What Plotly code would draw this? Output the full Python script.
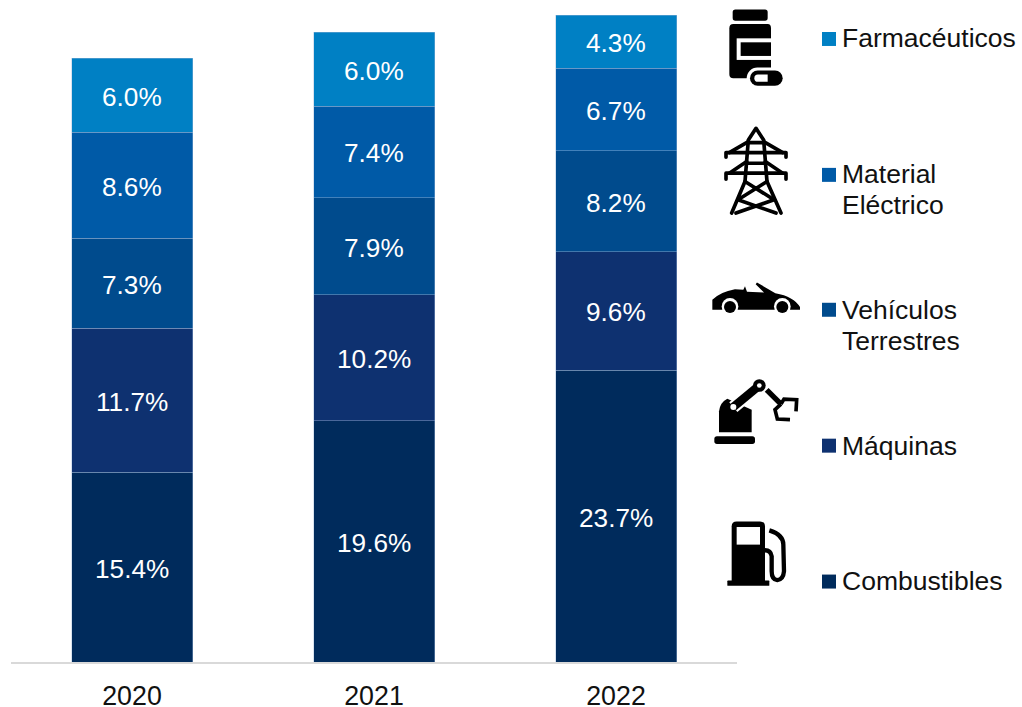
import base64
import plotly.graph_objects as go

years = ["2020", "2021", "2022"]
combustibles = [15.4, 19.6, 23.7]
maquinas = [11.7, 10.2, 9.6]
vehiculos = [7.3, 7.9, 8.2]
material = [8.6, 7.4, 6.7]
farmaceuticos = [6.0, 6.0, 4.3]

series_names = ["Combustibles", "Máquinas", "Vehículos Terrestres", "Material Eléctrico", "Farmacéuticos"]
series_values = [combustibles, maquinas, vehiculos, material, farmaceuticos]
series_colors = ["#002B5C", "#0E3170", "#004B8D", "#005AA7", "#0080C4"]

W, H = 1022, 707
ML, MR, MT, MB = 11, 285, 10, 44.5
PW, PH = W - ML - MR, H - MT - MB
FONT = "Liberation Sans, Arial, sans-serif"


def px(x):
    return (x - ML) / PW


def py(y):
    return 1 - (y - MT) / PH


fig = go.Figure()
annots, shapes = [], []
bases = [0.0, 0.0, 0.0]
for name, vals, col in zip(series_names, series_values, series_colors):
    fig.add_trace(go.Bar(
        x=years, y=vals, name=name,
        marker=dict(color=col, line=dict(color="rgba(160,185,215,0.55)", width=0.75)),
        hoverinfo="skip",
    ))
    for i, v in enumerate(vals):
        annots.append(dict(text=f"{v:.1f}%", x=i, y=bases[i] + v / 2, xref="x", yref="y",
                           xanchor="center", yanchor="middle", showarrow=False, yshift=-1.5,
                           font=dict(color="white", size=26.2, family=FONT)))
        bases[i] += v

legend_rows = [
    (["Farmacéuticos"], "#0080C4", 39, [38]),
    (["Material", "Eléctrico"], "#005AA7", 175, [174, 205]),
    (["Vehículos", "Terrestres"], "#004B8D", 310, [310, 341]),
    (["Máquinas"], "#0E3170", 446, [446]),
    (["Combustibles"], "#002B5C", 582, [581]),
]
for lines, col, yc, ys in legend_rows:
    shapes.append(dict(type="rect", xref="paper", yref="paper", x0=px(822), x1=px(836),
                       y0=py(yc - 7), y1=py(yc + 7), fillcolor=col, line_width=0))
    for t, y in zip(lines, ys):
        annots.append(dict(text=t, xref="paper", yref="paper", x=px(842), y=py(y),
                           xanchor="left", yanchor="middle", showarrow=False, xshift=-2,
                           font=dict(size=26.5, color="#111111", family=FONT)))

W_ = "#fff"
bottle = (f'<rect x="98" y="28" width="105" height="34" rx="8"/>'
          f'<path d="M100 72H203Q213 72 213 85V235H100Q88 235 88 222V85Q88 72 100 72Z"/>'
          f'<rect x="110" y="115" width="103" height="65" fill="{W_}"/>'
          f'<rect x="122" y="127" width="91" height="41"/>'
          f'<rect x="140" y="203" width="118" height="64" rx="32" fill="{W_}"/>'
          f'<rect x="150" y="212" width="98" height="46" rx="23"/>'
          f'<path d="M174 224H203V246H174Q163 246 163 235Q163 224 174 224Z" fill="{W_}"/>')
tower = ('<g fill="none" stroke="#000" stroke-width="11" stroke-linejoin="round" stroke-linecap="round">'
         '<path d="M95 640L135 545L145 420L168 385L191 420L201 545L243 640"/>'
         '<path d="M78 472V458H258V472M78 538V520H258V538"/>'
         '<path d="M88 458L145 425M248 458L191 425M88 520L140 485M248 520L196 485"/>'
         '<path d="M145 428H191M142 490H194"/>'
         '<path d="M135 545L222 600L108 640M201 545L114 600L228 640"/></g>')
car = ('<path d="M37 118V90Q60 66 105 58L130 60L135 49L141 66L192 68L167 43L171 38L226 70Q282 80 300 112V120H37Z"/>'
       f'<circle cx="90" cy="110" r="25" fill="{W_}"/><circle cx="90" cy="112" r="18"/>'
       f'<circle cx="247" cy="110" r="25" fill="{W_}"/><circle cx="247" cy="112" r="18"/>')
robot = ('<rect x="43" y="500" width="122" height="23" rx="8"/>'
         '<path d="M57 488V425Q60 398 82 387L155 420V488Z"/>'
         f'<path d="M100 412L178 347" stroke="{W_}" stroke-width="38"/>'
         '<path d="M100 412L178 347" stroke="#000" stroke-width="26"/>'
         f'<circle cx="100" cy="412" r="9" fill="{W_}"/>'
         f'<circle cx="178" cy="347" r="19" fill="#000"/><circle cx="178" cy="347" r="7" fill="{W_}"/>'
         '<path d="M200 360L243 403" stroke="#000" stroke-width="16"/>'
         '<path d="M243 403L252 388L290 390L288 425M243 403L225 420L232 448L270 450" fill="none" stroke="#000" stroke-width="11"/>')
pump = ('<path d="M110 755H180Q195 755 195 770V935H95V770Q95 755 110 755Z"/>'
        '<rect x="82" y="933" width="126" height="16" rx="2"/>'
        f'<rect x="110" y="772" width="70" height="53" fill="{W_}"/>'
        '<path d="M208 782Q250 795 250 825L252 905Q250 930 232 932Q215 930 215 905V860Q212 842 195 842" '
        'fill="none" stroke="#000" stroke-width="13"/>')

# (svg body, crop origin x, crop origin y, viewBox top, viewBox height) in 3x reference crop units
icons = [
    (bottle, 700, 0, 0, 280),
    (tower, 700, 0, 360, 300),
    (car, 700, 270, 20, 130),
    (robot, 700, 270, 320, 220),
    (pump, 700, 270, 740, 225),
]
images = []
for body, ox, oy, vb_y, vb_h in icons:
    svg = (f'<svg xmlns="http://www.w3.org/2000/svg" width="107" height="{vb_h/3:.1f}" '
           f'viewBox="0 {vb_y} 322 {vb_h}">{body}</svg>')
    images.append(dict(
        source="data:image/svg+xml;base64," + base64.b64encode(svg.encode()).decode(),
        xref="paper", yref="paper", x=px(ox), y=py(oy + vb_y / 3),
        sizex=107.33 / PW, sizey=(vb_h / 3) / PH,
        xanchor="left", yanchor="top", sizing="stretch", layer="above",
    ))

fig.update_layout(
    width=W, height=H, barmode="stack", bargap=0.5, showlegend=False,
    margin=dict(l=ML, r=MR, t=MT, b=MB, pad=0, autoexpand=False),
    paper_bgcolor="white", plot_bgcolor="white",
    xaxis=dict(type="category", range=[-0.5, 2.5], showline=True, linecolor="#D9D9D9", linewidth=2, ticks="",
               tickfont=dict(size=26.8, color="#111111", family=FONT), showgrid=False, zeroline=False,
               ticklabelstandoff=9),
    yaxis=dict(visible=False, range=[0, PH / 12.33], showgrid=False, zeroline=False),
    annotations=annots, shapes=shapes, images=images,
)
fig.write_html("out.html", config=dict(displayModeBar=False),
               post_script="document.body.style.margin='0';document.documentElement.style.overflow='hidden';")
